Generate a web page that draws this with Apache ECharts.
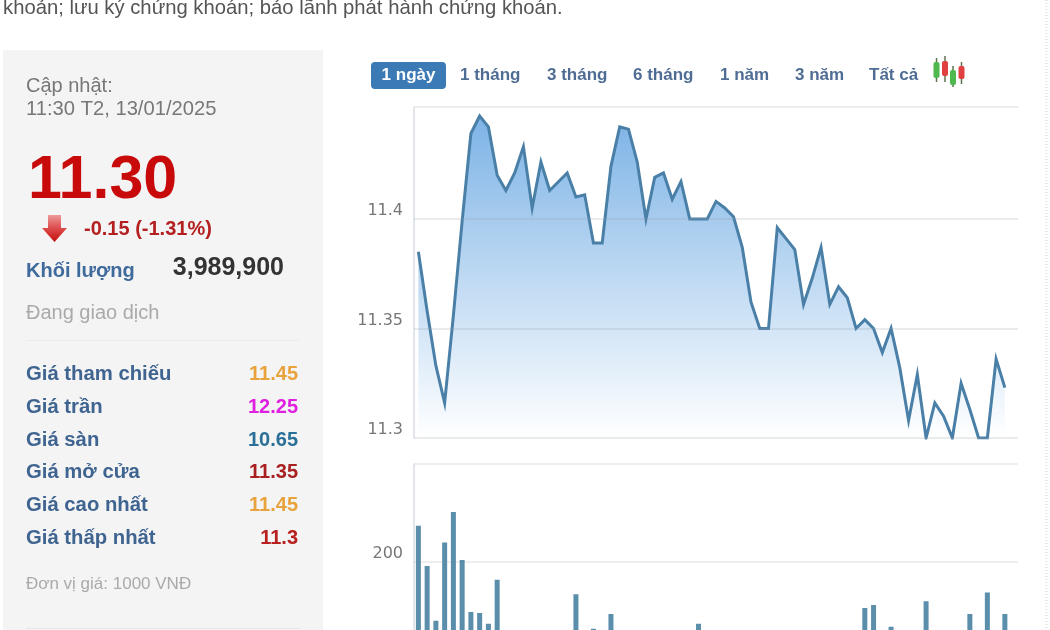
<!DOCTYPE html>
<html>
<head>
<meta charset="utf-8">
<title>Biểu đồ giá</title>
<style>
html, body { margin: 0; padding: 0; background: #fff; overflow: hidden; }
#chart { width: 1050px; height: 630px; }
</style>
<script src="https://cdn.jsdelivr.net/npm/echarts@6/dist/echarts.min.js"></script>
</head>
<body>
<div id="chart"></div>
<script>
// gia trong phien, doc tu hinh
var priceValues = [
    11.385, 11.358, 11.333, 11.316, 11.356, 11.399, 11.439, 11.447, 11.442, 11.420,
    11.413, 11.421, 11.433, 11.405, 11.426, 11.413, 11.417, 11.421, 11.410, 11.411,
    11.389, 11.389, 11.424, 11.442, 11.441, 11.426, 11.400, 11.419, 11.421, 11.409,
    11.417, 11.400, 11.400, 11.400, 11.408, 11.405, 11.401, 11.387, 11.362, 11.350,
    11.350, 11.396, 11.391, 11.386, 11.361, 11.373, 11.387, 11.361, 11.369, 11.364,
    11.350, 11.354, 11.350, 11.339, 11.350, 11.332, 11.308, 11.329, 11.300, 11.316,
    11.310, 11.300, 11.325, 11.313, 11.300, 11.300, 11.336, 11.323, null
];
// khoi luong; cot duoi 130 bi cat o mep duoi hinh nen chi la uoc luong
var volumeValues = [
    237, 196, 140, 220, 251, 202, 149, 148, 137, 182,
    60, 45, 80, 55, 70, 40, 65, 90, 167, 50,
    132, 75, 147, 60, 85, 40, 55, 70, 45, 95,
    60, 50, 137, 40, 65, 80, 55, 45, 70, 90,
    50, 60, 75, 40, 85, 55, 65, 70, 95, 50,
    60, 153, 156, 80, 134, 45, 70, 55, 160, 65,
    50, 75, 90, 147, 60, 169, 85, 147, null
];
var slotLabels = [];
for (var i = 0; i < priceValues.length; i++) { slotLabels.push(String(i)); }

var priceGridLines = [11.3, 11.35, 11.4];
var rangeLabels = ['1 tháng', '3 tháng', '6 tháng', '1 năm', '3 năm', 'Tất cả'];
var rangeLeft = [460, 547, 633, 720, 795, 869];
var statLabels = ['Giá tham chiếu', 'Giá trần', 'Giá sàn', 'Giá mở cửa', 'Giá cao nhất', 'Giá thấp nhất'];
var statValues = ['11.45', '12.25', '10.65', '11.35', '11.45', '11.3'];
var statColors = ['#e8a33d', '#e020e0', '#2a6f97', '#a82020', '#e8a33d', '#b82020'];
var statTop = [374, 407, 440, 472, 505, 538];

var FONT = '"Liberation Sans", Arial, sans-serif';
var AXIS_FONT = '"DejaVu Sans", sans-serif';

var label = function (text, x, y, size, color, bold, align) {
    return {
        type: 'text',
        silent: true,
        style: {
            text: text,
            x: x,
            y: y,
            fontFamily: FONT,
            fontSize: size,
            fontWeight: bold ? 'bold' : 'normal',
            fill: color,
            textAlign: align || 'left',
            textVerticalAlign: 'middle'
        }
    };
};

var candle = function (x, top, bottom, wickTop, wickBottom, color) {
    return [
        { type: 'line', silent: true, shape: { x1: x, y1: wickTop, x2: x, y2: wickBottom }, style: { stroke: '#5f7050', lineWidth: 1.5 } },
        { type: 'rect', silent: true, shape: { x: x - 3, y: top, width: 6, height: bottom - top, r: 2 }, style: { fill: color } }
    ];
};

var buildGraphic = function () {
    var g = [
        { type: 'rect', silent: true, z: -10, shape: { x: 3, y: 50, width: 320, height: 580 }, style: { fill: '#f4f4f5' } },
        { type: 'line', silent: true, shape: { x1: 26, y1: 340.5, x2: 299, y2: 340.5 }, style: { stroke: '#ebebeb', lineWidth: 1 } },
        { type: 'line', silent: true, shape: { x1: 26, y1: 628.5, x2: 299, y2: 628.5 }, style: { stroke: '#e6e6e6', lineWidth: 1 } },
        { type: 'line', silent: true, shape: { x1: 1046.5, y1: 0, x2: 1046.5, y2: 630 }, style: { stroke: '#e2e2e2', lineWidth: 2, lineDash: [1, 2] } },
        label('khoản; lưu ký chứng khoán; bảo lãnh phát hành chứng khoán.', 3, 8, 20.25, '#555'),
        label('Cập nhật:', 26, 86, 20, '#777'),
        label('11:30 T2, 13/01/2025', 26, 109, 20.2, '#777'),
        label('11.30', 28, 181, 61, '#c80a0a', true),
        {
            type: 'polygon',
            silent: true,
            shape: { points: [[48, 215], [61, 215], [61, 228], [67, 228], [54.5, 242], [42, 228], [48, 228]] },
            style: {
                fill: new echarts.graphic.LinearGradient(0, 0, 0, 1, [
                    { offset: 0, color: '#ee9a9a' },
                    { offset: 0.5, color: '#dc4a4a' },
                    { offset: 1, color: '#c40f0f' }
                ])
            }
        },
        label('-0.15 (-1.31%)', 84, 229, 20, '#b42020', true),
        label('Khối lượng', 26, 271, 20, '#3f6a9c', true),
        label('3,989,900', 284, 268, 25, '#333', true, 'right'),
        label('Đang giao dịch', 26, 313, 20, '#aaa'),
        label('Đơn vị giá: 1000 VNĐ', 26, 584, 17, '#aaa'),
        { type: 'rect', silent: true, shape: { x: 371, y: 62, width: 75, height: 27, r: 4 }, style: { fill: '#3b7ab5' } },
        label('1 ngày', 408.5, 75, 17, '#fff', true, 'center')
    ];
    for (var i = 0; i < rangeLabels.length; i++) {
        g.push(label(rangeLabels[i], rangeLeft[i], 75, 17, '#4f6d94', true));
    }
    for (var j = 0; j < statLabels.length; j++) {
        g.push(label(statLabels[j], 26, statTop[j], 20.3, '#3f6490', true));
        g.push(label(statValues[j], 298, statTop[j], 20, statColors[j], true, 'right'));
    }
    g = g.concat(
        candle(936.5, 62, 78, 58, 82, '#4fb84f'),
        candle(945, 61, 76, 56, 82, '#e04040'),
        candle(953, 70, 85, 66, 87, '#4fb84f'),
        candle(961.5, 66, 79, 62, 84, '#e04040')
    );
    return g;
};

var chart = echarts.init(document.getElementById('chart'), null, { renderer: 'canvas' });

var option = {
    animation: false,
    tooltip: { show: false },
    graphic: buildGraphic(),
    grid: [
        { left: 414, right: 32, top: 107, height: 331, outerBoundsMode: 'none' },
        { left: 414, right: 32, top: 464, height: 294, outerBoundsMode: 'none' }
    ],
    xAxis: [
        {
            type: 'category',
            gridIndex: 0,
            data: slotLabels,
            boundaryGap: true,
            position: 'top',
            axisLine: { show: true, lineStyle: { color: '#e8e8e8', width: 1.5 } },
            axisTick: { show: false },
            axisLabel: { show: false },
            splitLine: { show: false }
        },
        {
            type: 'category',
            gridIndex: 1,
            data: slotLabels,
            boundaryGap: true,
            position: 'top',
            axisLine: { show: true, lineStyle: { color: '#e8e8e8', width: 1.5 } },
            axisTick: { show: false },
            axisLabel: { show: false },
            splitLine: { show: false }
        }
    ],
    yAxis: [
        {
            type: 'value',
            gridIndex: 0,
            min: 11.3,
            max: 11.4511,
            interval: 0.05,
            axisLine: { show: true, lineStyle: { color: '#d8dee5', width: 1.5 } },
            axisTick: { show: false },
            splitLine: { show: false },
            axisLabel: {
                show: true,
                margin: 11,
                color: '#777',
                fontFamily: AXIS_FONT,
                fontSize: 16,
                verticalAlign: 'bottom',
                showMaxLabel: false,
                formatter: function (v) {
                    return v > 11.42 ? '' : String(+v.toFixed(2));
                }
            }
        },
        {
            type: 'value',
            gridIndex: 1,
            min: 0,
            max: 300,
            interval: 100,
            axisLine: { show: true, lineStyle: { color: '#d8dee5', width: 1.5 } },
            axisTick: { show: false },
            splitLine: { show: true, lineStyle: { color: '#e8e8e8', width: 1.5 } },
            axisLabel: {
                show: true,
                margin: 11,
                color: '#777',
                fontFamily: AXIS_FONT,
                fontSize: 16,
                verticalAlign: 'bottom',
                showMaxLabel: false
            }
        }
    ],
    series: [
        {
            type: 'line',
            name: 'Giá',
            xAxisIndex: 0,
            yAxisIndex: 0,
            data: priceValues,
            symbol: 'none',
            smooth: false,
            lineStyle: { color: '#4a80a8', width: 3, join: 'miter' },
            areaStyle: {
                opacity: 1,
                color: {
                    type: 'linear',
                    x: 0,
                    y: 0,
                    x2: 0,
                    y2: 1,
                    colorStops: [
                        { offset: 0, color: '#7db3e6' },
                        { offset: 1, color: '#ffffff' }
                    ],
                    globalCoord: false
                }
            },
            markLine: {
                silent: true,
                symbol: 'none',
                label: { show: false },
                animation: false,
                lineStyle: { color: 'rgba(150,160,170,0.28)', width: 1.5, type: 'solid' },
                data: priceGridLines.map(function (v) { return { yAxis: v }; })
            }
        },
        {
            type: 'bar',
            name: 'Khối lượng',
            xAxisIndex: 1,
            yAxisIndex: 1,
            data: volumeValues,
            barWidth: 5,
            itemStyle: { color: '#5b8eab' }
        }
    ]
};
chart.setOption(option);
</script>
</body>
</html>
